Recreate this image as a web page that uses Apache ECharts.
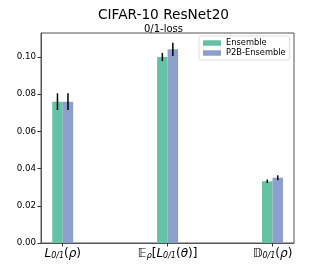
<!DOCTYPE html>
<html><head><meta charset="utf-8">
<script src="https://cdn.jsdelivr.net/npm/echarts@6/dist/echarts.min.js"></script>
<style>html,body{margin:0;padding:0;background:#fff}#c{width:327px;height:273px}</style>
</head><body><div id="c"></div>
<script>
const categories = ['L', 'E', 'D'];
const seriesNames = ['Ensemble', 'P2B-Ensemble'];
const ensembleValues = [0.0760, 0.1000, 0.0332];
const ensembleErrors = [0.0045, 0.0022, 0.0009];
const p2bValues = [0.0760, 0.1041, 0.0351];
const p2bErrors = [0.0045, 0.0036, 0.0013];
const yTicks = [0, 0.02, 0.04, 0.06, 0.08, 0.10];
const colors = ['#66c2a5', '#8da0cb'];

const BW = 10.5;
const chart = echarts.init(document.getElementById('c'), null, {renderer: 'canvas'});
const F = 'DejaVu Sans';
const labelFor = {
  0: '{it|L}{sub|0/1}{n|(}{it|ρ}{n|)}',
  1: '{n|𝔼}{sub|ρ}{n|[}{it|L}{sub|0/1}{n|(}{it|θ}{n|)]}',
  2: '{n|𝔻}{sub|0/1}{n|(}{it|ρ}{n|)}'
};
function errSeries(vals, errs, sign) {
  return {
    type: 'custom',
    z: 10,
    data: vals.map((v, i) => [i, v, errs[i]]),
    renderItem: function (params, api) {
      const x = api.value(0), v = api.value(1), e = api.value(2);
      const p1 = api.coord([x, v + e]);
      const p2 = api.coord([x, v - e]);
      const px = p1[0] + sign * BW / 2;
      return {type: 'line', shape: {x1: px, y1: p1[1], x2: px, y2: p2[1]},
        style: {stroke: '#000', lineWidth: 1.5}};
    }
  };
}
chart.setOption({
  animation: false,
  title: {
    text: 'CIFAR-10 ResNet20', subtext: '0/1-loss', left: 'center', top: 3, itemGap: 2,
    textStyle: {fontFamily: F, fontSize: 13.7, fontWeight: 'normal', color: '#000'},
    subtextStyle: {fontFamily: F, fontSize: 10, color: '#000'}
  },
  legend: {
    orient: 'vertical', left: 199, top: 36, padding: [3, 4, 3, 4], itemGap: 2,
    itemWidth: 18, itemHeight: 5.5, borderColor: '#ddd', borderWidth: 1, borderRadius: 2,
    data: seriesNames.map(n => ({name: n, icon: 'rect'})),
    textStyle: {fontFamily: F, fontSize: 8.3, color: '#000'}
  },
  grid: {left: 41, top: 33, right: 33, bottom: 30, show: true, borderColor: '#555', borderWidth: 1},
  xAxis: {
    type: 'value', min: -0.207, max: 2.205,
    splitLine: {show: false},
    axisLine: {onZero: false, lineStyle: {color: '#555'}},
    axisTick: {customValues: [0, 1, 2], length: 3.5, lineStyle: {color: '#333'}},
    axisLabel: {
      customValues: [0, 1, 2], margin: 5,
      formatter: v => labelFor[Math.round(v)],
      rich: {
        n: {fontFamily: F, fontSize: 12, color: '#000'},
        it: {fontFamily: F, fontSize: 12, fontStyle: 'italic', color: '#000'},
        sub: {fontFamily: F, fontSize: 8, fontStyle: 'italic', color: '#000', verticalAlign: 'bottom', padding: [4, 0, 0, 0]}
      }
    }
  },
  yAxis: {
    type: 'value', min: 0, max: 0.1129,
    splitLine: {show: false},
    axisLine: {show: true, onZero: false, lineStyle: {color: '#555'}},
    axisTick: {show: true, customValues: yTicks, length: 3.5, lineStyle: {color: '#333'}},
    axisLabel: {customValues: yTicks, margin: 5, fontFamily: F, fontSize: 8.7, color: '#000',
      formatter: v => v.toFixed(2)}
  },
  series: [
    {name: seriesNames[0], type: 'bar', barWidth: BW, barGap: '0%', itemStyle: {color: colors[0]},
     data: ensembleValues.map((v, i) => [i, v])},
    {name: seriesNames[1], type: 'bar', barWidth: BW, barGap: '0%', itemStyle: {color: colors[1]},
     data: p2bValues.map((v, i) => [i, v])},
    errSeries(ensembleValues, ensembleErrors, -1),
    errSeries(p2bValues, p2bErrors, 1)
  ]
});
</script></body></html>
